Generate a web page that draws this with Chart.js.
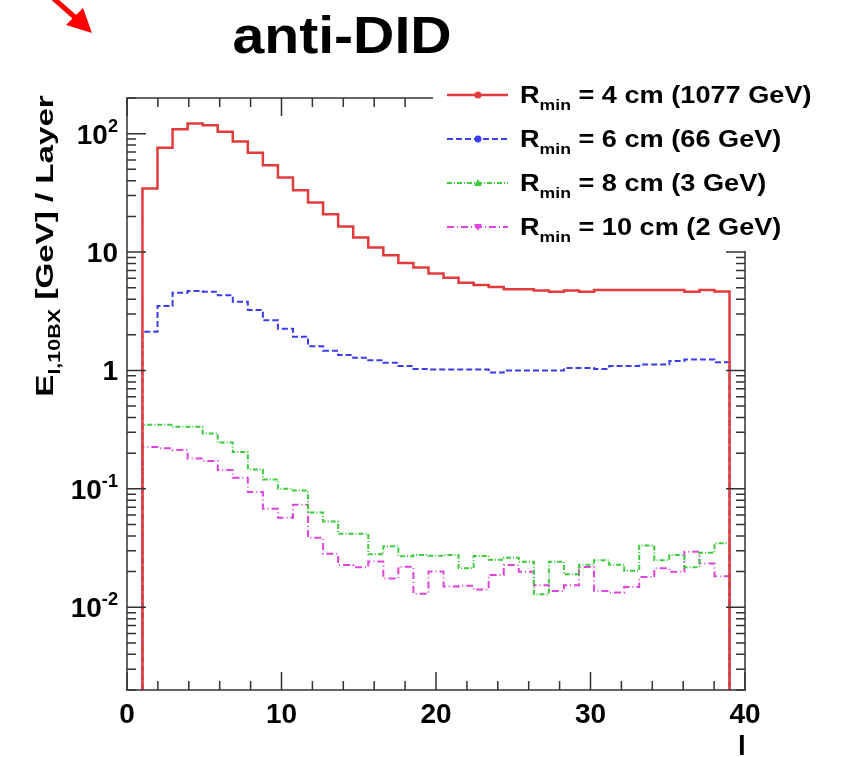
<!DOCTYPE html>
<html>
<head>
<meta charset="utf-8">
<title>anti-DID</title>
<script src="https://cdn.jsdelivr.net/npm/chart.js@4"></script>
<style>
    html, body { margin: 0; padding: 0; background: #fff; }
    canvas { display: block; }
</style>
</head>
<body>
<canvas id="chart" width="849" height="757"></canvas>
<script>
// Energy per layer (GeV), 39 bins between layer 1 and 39
const layerMin = 1;
const layerMax = 39;

const energyR4 = [34.4, 76, 109, 122, 118, 104, 86, 69, 54, 42.6, 33.2, 26.2, 20.9, 16.4, 13.3, 10.9, 9.4, 8.1, 7.4,
    6.6, 6.08, 5.51, 5.26, 5.06, 4.84, 4.84, 4.74, 4.62, 4.74, 4.62, 4.77, 4.77, 4.77, 4.77, 4.77, 4.77, 4.62, 4.77, 4.65];
const energyR6 = [2.12, 3.5, 4.54, 4.68, 4.62, 4.31, 3.81, 3.24, 2.65, 2.25, 1.93, 1.6, 1.47, 1.35, 1.28, 1.22, 1.16, 1.09, 1.03,
    1.02, 1.02, 1.02, 1.02, 0.96, 1.0, 1.0, 1.0, 1.0, 1.05, 1.05, 1.03, 1.09, 1.09, 1.12, 1.12, 1.2, 1.24, 1.24, 1.17];
const energyR8 = [0.347, 0.347, 0.334, 0.334, 0.294, 0.246, 0.205, 0.146, 0.12, 0.1, 0.097, 0.063, 0.053, 0.0417, 0.0417, 0.028, 0.0327, 0.027, 0.0276,
    0.0272, 0.0276, 0.0213, 0.0271, 0.0252, 0.0262, 0.0242, 0.0129, 0.0242, 0.019, 0.0228, 0.025, 0.0229, 0.0203, 0.0333, 0.025, 0.0276, 0.0218, 0.0289, 0.0347];
const energyR10 = [0.226, 0.22, 0.213, 0.18, 0.172, 0.144, 0.124, 0.094, 0.068, 0.057, 0.0735, 0.0386, 0.0283, 0.0227, 0.0218, 0.0243, 0.0175, 0.022, 0.013,
    0.02, 0.015, 0.0152, 0.0141, 0.0187, 0.0227, 0.0199, 0.0153, 0.0137, 0.0153, 0.0219, 0.0137, 0.0133, 0.0148, 0.018, 0.0213, 0.0199, 0.0294, 0.0234, 0.0183];

const rMinCm = [4, 6, 8, 10];
const totalGeV = [1077, 66, 3, 2];

const xMin = 0, xMax = 40;
const yMin = 0.002, yMax = 200;
const xTickValues = [0, 10, 20, 30, 40];
const yTickValues = [100, 10, 1, 0.1, 0.01];
const yTickLabels = [['10', '2'], ['10', ''], ['1', ''], ['10', '-1'], ['10', '-2']];

const seriesColors = ['#e23b3b', '#3b3bf0', '#3ccc3c', '#dd44dd'];
const seriesDash = [[], [6, 3], [5, 2, 1, 2], [7, 3, 1, 3]];
const seriesWidth = [2.5, 2, 2, 2];
const seriesMarker = ['circle', 'circle', 'triangle', 'triangleDown'];

const FONT = '"Liberation Sans", Arial, Helvetica, sans-serif';

// ROOT-like histogram outline: rises from the bottom, steps, drops back
function histPoints(values) {
    const n = values.length;
    const w = (layerMax - layerMin) / n;
    const pts = [{ x: layerMin, y: yMin }];
    values.forEach((v, i) => pts.push({ x: layerMin + i * w, y: v }));
    pts.push({ x: layerMax, y: values[n - 1] });
    pts.push({ x: layerMax, y: yMin });
    return pts;
}

// text made of parts: [text, 'n' | 'sub' | 'sup']
function richWidth(ctx, parts, size) {
    let w = 0;
    parts.forEach(([t, mode]) => {
        const s = mode === 'n' ? size : size * 0.65;
        ctx.font = 'bold ' + s + 'px ' + FONT;
        w += ctx.measureText(t).width;
    });
    return w;
}

function drawRich(ctx, parts, x, y, size, sx, align) {
    const total = richWidth(ctx, parts, size) * sx;
    let cx = x;
    if (align === 'center') cx = x - total / 2;
    if (align === 'right') cx = x - total;
    ctx.save();
    ctx.translate(cx, y);
    ctx.scale(sx, 1);
    ctx.textBaseline = 'alphabetic';
    ctx.textAlign = 'left';
    let px = 0;
    parts.forEach(([t, mode]) => {
        let s = size, dy = 0;
        if (mode === 'sub') { s = size * 0.65; dy = size * 0.3; }
        if (mode === 'sup') { s = size * 0.65; dy = -size * 0.42; }
        ctx.font = 'bold ' + s + 'px ' + FONT;
        ctx.fillText(t, px, dy);
        px += ctx.measureText(t).width;
    });
    ctx.restore();
}

function drawMarker(ctx, type, x, y, color) {
    ctx.save();
    ctx.fillStyle = color;
    ctx.setLineDash([]);
    ctx.beginPath();
    if (type === 'circle') {
        ctx.arc(x, y, 3.5, 0, Math.PI * 2);
    } else if (type === 'triangle') {
        ctx.moveTo(x, y - 4); ctx.lineTo(x + 4, y + 3); ctx.lineTo(x - 4, y + 3);
    } else {
        ctx.moveTo(x, y + 4); ctx.lineTo(x + 4, y - 3); ctx.lineTo(x - 4, y - 3);
    }
    ctx.closePath();
    ctx.fill();
    ctx.restore();
}

const rootFrame = {
    id: 'rootFrame',
    afterDatasetsDraw(chart) {
        const ctx = chart.ctx;
        const a = chart.chartArea;
        const xs = chart.scales.x;
        const ys = chart.scales.y;

        ctx.save();
        ctx.strokeStyle = '#333';
        ctx.fillStyle = '#000';
        ctx.lineWidth = 1.5;
        ctx.setLineDash([]);
        ctx.strokeRect(a.left, a.top, a.right - a.left, a.bottom - a.top);

        // x ticks (inward, bottom and top), every 2 layers
        ctx.beginPath();
        for (let v = xMin; v <= xMax; v += 2) {
            const px = xs.getPixelForValue(v);
            const len = v % 10 === 0 ? 18 : 9;
            ctx.moveTo(px, a.bottom); ctx.lineTo(px, a.bottom - len);
            ctx.moveTo(px, a.top); ctx.lineTo(px, a.top + len);
        }
        // y ticks (log), left and right
        for (let d = -3; d <= 2; d++) {
            for (let m = 1; m <= 9; m++) {
                const v = m * Math.pow(10, d);
                if (v < yMin || v > yMax) continue;
                const py = ys.getPixelForValue(v);
                const len = m === 1 ? 19 : 9;
                ctx.moveTo(a.left, py); ctx.lineTo(a.left + len, py);
                ctx.moveTo(a.right, py); ctx.lineTo(a.right - len, py);
            }
        }
        ctx.stroke();

        // tick labels
        xTickValues.forEach(v => {
            drawRich(ctx, [[String(v), 'n']], xs.getPixelForValue(v), a.bottom + 33, 28, 1, 'center');
        });
        yTickValues.forEach((v, i) => {
            const [base, exp] = yTickLabels[i];
            const parts = exp ? [[base, 'n'], [exp, 'sup']] : [[base, 'n']];
            drawRich(ctx, parts, a.left - 9, ys.getPixelForValue(v) + 10, 28, 1, 'right');
        });

        // axis titles
        drawRich(ctx, [['l', 'n']], a.right - 3, a.bottom + 65, 28, 1, 'center');
        ctx.save();
        ctx.translate(53, 246);
        ctx.rotate(-Math.PI / 2);
        drawRich(ctx, [['E', 'n'], ['l,10BX', 'sub'], [' [GeV] / Layer', 'n']], 0, 0, 24, 1.38, 'center');
        ctx.restore();

        // legend box covers the frame corner
        ctx.fillStyle = '#fff';
        ctx.fillRect(433, 70, 849 - 433, 251 - 70);
        ctx.fillStyle = '#000';
        chart.data.datasets.forEach((ds, i) => {
            const ly = 95 + i * 44;
            ctx.save();
            ctx.strokeStyle = ds.borderColor;
            ctx.lineWidth = ds.borderWidth;
            ctx.setLineDash(ds.borderDash);
            ctx.beginPath();
            ctx.moveTo(447, ly); ctx.lineTo(508, ly);
            ctx.stroke();
            ctx.restore();
            drawMarker(ctx, seriesMarker[i], 478, ly, ds.borderColor);
            drawRich(ctx, [['R', 'n'], ['min', 'sub'], [' = ' + rMinCm[i] + ' cm (' + totalGeV[i] + ' GeV)', 'n']],
                520, ly + 8, 23, 1.18, 'left');
        });

        // title
        drawRich(ctx, [['anti-DID', 'n']], 342, 53, 52, 1.1, 'center');

        // red pointer arrow in the corner
        ctx.strokeStyle = '#f00';
        ctx.fillStyle = '#f00';
        ctx.lineWidth = 5;
        ctx.beginPath();
        ctx.moveTo(53, -2); ctx.lineTo(78, 20);
        ctx.stroke();
        ctx.beginPath();
        ctx.moveTo(92, 33); ctx.lineTo(66, 25); ctx.lineTo(83, 8);
        ctx.closePath();
        ctx.fill();
        ctx.restore();
    }
};

const seriesValues = [energyR4, energyR6, energyR8, energyR10];

new Chart(document.getElementById('chart'), {
    type: 'line',
    data: {
        datasets: seriesValues.map((vals, i) => ({
            label: 'R_min = ' + rMinCm[i] + ' cm',
            data: histPoints(vals),
            borderColor: seriesColors[i],
            borderWidth: seriesWidth[i],
            borderDash: seriesDash[i],
            stepped: 'before',
            pointRadius: 0,
            fill: false,
            tension: 0
        }))
    },
    options: {
        responsive: false,
        animation: false,
        devicePixelRatio: 1,
        layout: { padding: { left: 127, right: 104, top: 98, bottom: 67 } },
        plugins: {
            legend: { display: false },
            tooltip: { enabled: false }
        },
        scales: {
            x: { type: 'linear', min: xMin, max: xMax, display: false },
            y: { type: 'logarithmic', min: yMin, max: yMax, display: false }
        }
    },
    plugins: [rootFrame]
});
</script>
</body>
</html>
